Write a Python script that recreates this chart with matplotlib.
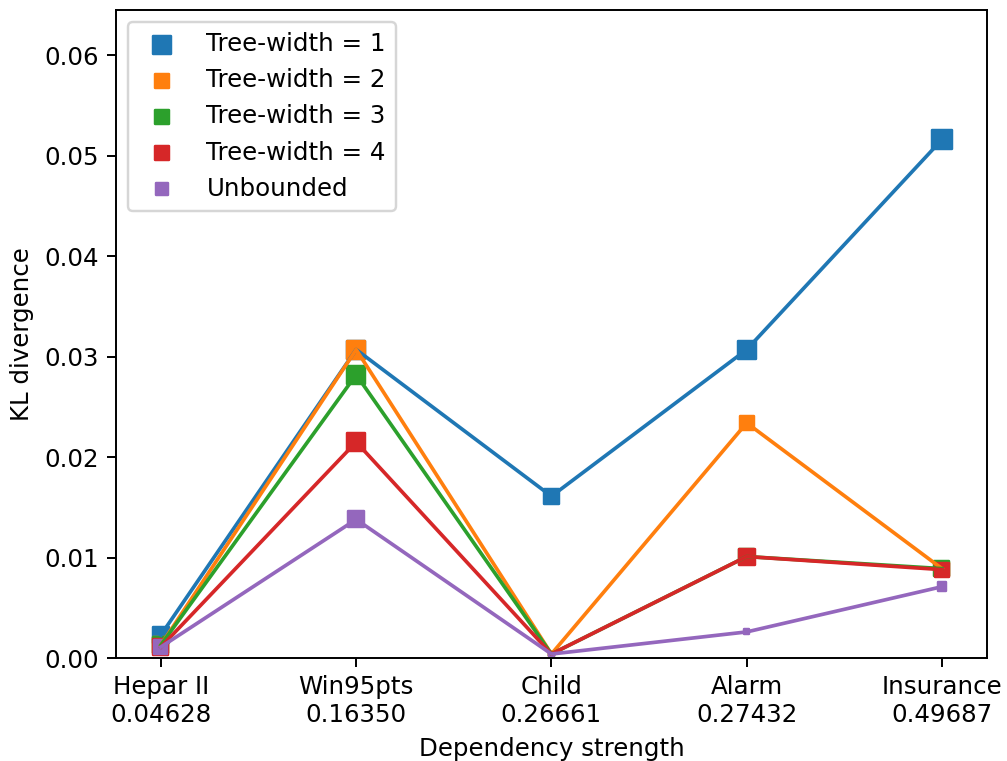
import numpy as np
import matplotlib
matplotlib.use('Agg')
import matplotlib.pyplot as plt

# data
networks = ['Hepar II', 'Win95pts', 'Child', 'Alarm', 'Insurance']
strength = ['0.04628', '0.16350', '0.26661', '0.27432', '0.49687']
labels = ['Tree-width = 1', 'Tree-width = 2', 'Tree-width = 3', 'Tree-width = 4', 'Unbounded']

kl_tw1 = [0.0023, 0.0307, 0.0161, 0.0307, 0.0516]
kl_tw2 = [0.0013, 0.0307, 0.0004, 0.0234, 0.0089]
kl_tw3 = [0.0013, 0.0282, 0.0004, 0.0101, 0.0089]
kl_tw4 = [0.0011, 0.0215, 0.0004, 0.0101, 0.0088]
kl_unb = [0.0011, 0.0138, 0.0004, 0.0026, 0.0071]

# marker areas (points^2) per point
size_tw1 = [43, 55, 38, 55, 62]
size_tw2 = [38, 55, 4, 33, 33]
size_tw3 = [38, 55, 4, 38, 38]
size_tw4 = [38, 55, 4, 43, 33]
size_unb = [29, 43, 4, 4, 12]

series = [kl_tw1, kl_tw2, kl_tw3, kl_tw4, kl_unb]
sizes = [size_tw1, size_tw2, size_tw3, size_tw4, size_unb]
colors = ['tab:blue', 'tab:orange', 'tab:green', 'tab:red', 'tab:purple']

DPI = 176
fig = plt.figure(figsize=(1007 / DPI, 761 / DPI), dpi=DPI)
ax = fig.add_axes([0.1152, 0.1353, 0.8648, 0.8516])

x = np.arange(len(networks))
for vals, sz, c, lab in zip(series, sizes, colors, labels):
    ax.plot(x, vals, color=c)
    ax.scatter(x, vals, s=sz, marker='s', color=c, label=lab)

ax.set_xlim(-0.23, 4.23)
ax.set_ylim(0, 0.0645)
ax.set_yticks(np.arange(0, 0.061, 0.01))
ax.set_xticks(x)
ax.set_xticklabels([n + '\n' + s for n, s in zip(networks, strength)])
ax.set_xlabel('Dependency strength')
ax.set_ylabel('KL divergence')
ax.legend(loc='upper left')

fig.savefig('out.png', dpi=DPI)
